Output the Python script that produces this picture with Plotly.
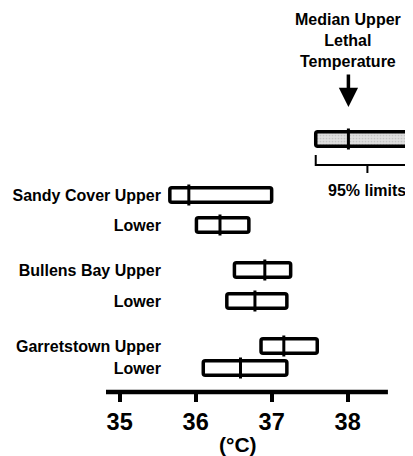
import plotly.graph_objects as go

# ---- data (°C) ----
labels = ["Sandy Cover Upper", "Lower", "Bullens Bay Upper", "Lower",
          "Garretstown Upper", "Lower"]
lower95 = [35.66, 36.01, 36.51, 36.41, 36.86, 36.10]
upper95 = [37.00, 36.70, 37.25, 37.20, 37.60, 37.20]
median = [35.91, 36.32, 36.91, 36.78, 37.16, 36.59]

# legend key example
key_lower, key_median, key_upper = 37.58, 38.01, 38.94

tick_vals = [35, 36, 37, 38]
tick_text = ["35", "36", "37", "38"]
x_title = "(°C)"

# ---- layout helpers (row positions, not data) ----
row_pos = [19.5, 22.5, 27.0, 30.1, 34.6, 36.8]
key_pos = 13.9
bar_w = 1.45
x_range = [34.82, 38.86]
y_range = [39.2, 0.8]

FONT = "Liberation Sans"
BLACK = "#000000"

fig = go.Figure()

# boxes
fig.add_trace(go.Bar(
    y=row_pos, x=[u - l for l, u in zip(lower95, upper95)], base=lower95,
    orientation="h", width=bar_w,
    marker=dict(color="white", line=dict(color=BLACK, width=3.5), cornerradius=2),
    showlegend=False, hoverinfo="skip"))

# key box
fig.add_trace(go.Bar(
    y=[key_pos], x=[key_upper - key_lower], base=[key_lower],
    orientation="h", width=bar_w,
    marker=dict(color="#d2d2d2", line=dict(color=BLACK, width=3.5), cornerradius=2,
                pattern=dict(shape=".", size=3, solidity=0.25, fgcolor="#a8a8a8", bgcolor="#dedede")),
    showlegend=False, hoverinfo="skip"))

# median ticks
fig.add_trace(go.Scatter(
    x=median + [key_median], y=row_pos + [key_pos], mode="markers",
    marker=dict(symbol="line-ns-open", size=15, color=BLACK, line=dict(color=BLACK, width=3)),
    showlegend=False, hoverinfo="skip", cliponaxis=False))

# bracket under key box (95% limits)
key_mid = (key_lower + key_upper) / 2
fig.add_trace(go.Scatter(
    x=[key_lower, key_lower, key_upper + 0.2, None, key_mid, key_mid],
    y=[15.5, 16.5, 16.5, None, 16.5, 17.3],
    mode="lines", line=dict(color=BLACK, width=2),
    showlegend=False, hoverinfo="skip"))

# axis line (drawn explicitly so that the key box can run past it)
fig.add_shape(type="line", xref="x", yref="paper", x0=x_range[0], x1=38.53, y0=0, y1=0,
              line=dict(color=BLACK, width=4.5))

# key texts
fig.add_annotation(x=key_median, y=4.0, xref="x", yref="y",
                   text="<b>Median Upper<br>Lethal<br>Temperature</b>",
                   showarrow=False, font=dict(family=FONT, size=16, color=BLACK),
                   align="center", xanchor="center", yanchor="middle")
fig.add_annotation(x=key_median, y=10.7, ax=key_median, ay=7.3, xref="x", yref="y",
                   axref="x", ayref="y", text="", showarrow=True,
                   arrowhead=2, arrowsize=1.1, arrowwidth=3.5, arrowcolor=BLACK)
fig.add_annotation(x=key_mid, y=19.0, xref="x", yref="y",
                   text="<b>95% limits</b>", showarrow=False,
                   font=dict(family=FONT, size=16, color=BLACK),
                   xanchor="center", yanchor="middle")

# axis title, centred under the drawn axis line
fig.add_annotation(x=0.43, y=0, xref="paper", yref="paper", yshift=-52,
                   text=f"<b>{x_title}</b>", showarrow=False,
                   font=dict(family=FONT, size=21, color=BLACK),
                   xanchor="center", yanchor="middle")

fig.update_layout(
    width=413, height=456,
    margin=dict(l=98, r=8, t=0, b=72),
    paper_bgcolor="white", plot_bgcolor="white",
    barmode="overlay",
    font=dict(family=FONT, color=BLACK),
    xaxis=dict(range=x_range, showgrid=False, zeroline=False, showline=False,
               tickvals=tick_vals, ticktext=tick_text, ticks="outside",
               ticklen=9, tickwidth=4, tickcolor=BLACK,
               tickfont=dict(family=FONT, size=23.5, color=BLACK, weight="bold"),
               automargin=False, fixedrange=True),
    yaxis=dict(range=y_range, showgrid=False, zeroline=False, showline=False,
               anchor="free", position=0.179,
               tickvals=row_pos, ticktext=[f"<b>{t}</b>" for t in labels],
               ticks="", tickfont=dict(family=FONT, size=16, color=BLACK),
               automargin=False, fixedrange=True),
)

fig.write_html("out.html")
